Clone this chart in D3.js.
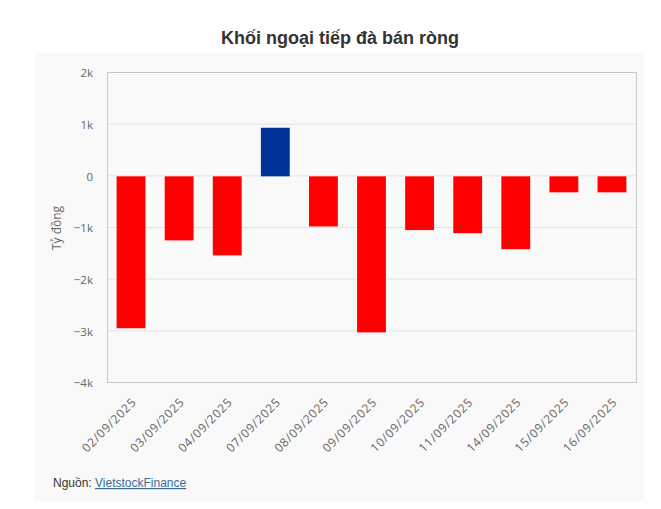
<!DOCTYPE html>
<html lang="vi">
<head>
    <meta charset="UTF-8">
    <title>Khối ngoại tiếp đà bán ròng</title>
    <script src="https://cdnjs.cloudflare.com/ajax/libs/d3/7.8.5/d3.min.js"></script>
    <style>
        body {
            margin: 0;
            background: #ffffff;
            font-family: 'Liberation Sans', Arial, sans-serif;
        }
        .axis text { fill: #666; font-family: 'Open Sans', sans-serif; }
        .axis path, .axis line { display: none; }
    </style>
</head>
<body>
    <div id="chart"></div>
    <script>
        // data (tỷ đồng)
        const dates = ["02/09/2025", "03/09/2025", "04/09/2025", "07/09/2025", "08/09/2025",
            "09/09/2025", "10/09/2025", "11/09/2025", "14/09/2025", "15/09/2025", "16/09/2025"];
        const netValues = [-2940, -1240, -1530, 940, -970, -3020, -1040, -1100, -1410, -310, -310];
        const yTicks = [2000, 1000, 0, -1000, -2000, -3000, -4000];
        const yTickLabels = ["2k", "1k", "0", "\u22121k", "\u22122k", "\u22123k", "\u22124k"];

        const W = 661, H = 509;
        const plot = {left: 107, right: 636, top: 73, bottom: 383};

        const svg = d3.select("#chart").append("svg")
            .attr("width", W)
            .attr("height", H);

        // light panel behind the chart
        svg.append("rect")
            .attr("x", 35).attr("y", 53)
            .attr("width", 609).attr("height", 449)
            .attr("fill", "#f9f9f9");

        svg.append("text")
            .attr("x", 340).attr("y", 44)
            .attr("text-anchor", "middle")
            .attr("font-size", 18)
            .attr("font-weight", "bold")
            .attr("fill", "#333")
            .text("Khối ngoại tiếp đà bán ròng");

        const x = d3.scaleBand()
            .domain(dates)
            .range([plot.left, plot.right])
            .paddingInner(0.4)
            .paddingOuter(0.2);

        const y = d3.scaleLinear()
            .domain([-4000, 2000])
            .range([plot.bottom, plot.top]);

        // gridlines
        svg.append("g").selectAll("line")
            .data(yTicks)
            .join("line")
            .attr("x1", plot.left).attr("x2", plot.right)
            .attr("y1", d => y(d) - 0.5).attr("y2", d => y(d) - 0.5)
            .attr("stroke", "#e3e3e3");

        // plot border
        svg.append("rect")
            .attr("x", plot.left + 0.5).attr("y", plot.top - 0.5)
            .attr("width", plot.right - plot.left).attr("height", plot.bottom - plot.top)
            .attr("fill", "none")
            .attr("stroke", "#c8c8c8");

        svg.append("g")
            .attr("class", "axis")
            .attr("transform", `translate(${plot.left},0)`)
            .call(d3.axisLeft(y).tickValues(yTicks)
                .tickFormat((d, i) => yTickLabels[i]).tickSize(0).tickPadding(14))
            .selectAll("text")
            .attr("font-size", 11.5);

        svg.append("text")
            .attr("transform", "translate(61,228)rotate(-90)")
            .attr("text-anchor", "middle")
            .attr("font-family", "'Open Sans', sans-serif")
            .attr("font-size", 12)
            .attr("fill", "#666")
            .text("Tỷ đồng");

        const xAxis = svg.append("g")
            .attr("class", "axis")
            .attr("transform", `translate(0,${plot.bottom})`)
            .call(d3.axisBottom(x).tickSize(0).tickPadding(0));

        xAxis.selectAll("text")
            .attr("font-size", 12)
            .attr("letter-spacing", 0.7)
            .attr("text-anchor", "end")
            .attr("dy", null)
            .attr("transform", "translate(6,20)rotate(-45)");

        svg.append("g").selectAll("rect")
            .data(dates)
            .join("rect")
            .attr("x", d => x(d))
            .attr("width", x.bandwidth())
            .attr("y", (d, i) => y(Math.max(0, netValues[i])))
            .attr("height", (d, i) => Math.abs(y(netValues[i]) - y(0)))
            .attr("fill", (d, i) => netValues[i] >= 0 ? "#003399" : "#ff0000");

        const src = svg.append("text")
            .attr("x", 53).attr("y", 487)
            .attr("font-size", 12)
            .attr("fill", "#333");
        src.append("tspan").text("Nguồn: ");
        src.append("tspan")
            .attr("fill", "#3d6f91")
            .attr("text-decoration", "underline")
            .text("VietstockFinance");
    </script>
</body>
</html>
